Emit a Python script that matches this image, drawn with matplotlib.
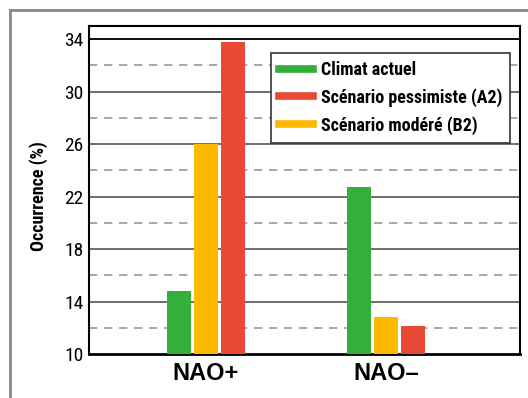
import matplotlib
matplotlib.use("Agg")
import matplotlib.pyplot as plt
from matplotlib.lines import Line2D
import numpy as np

categories = ["NAO+", "NAO\u2013"]
series_names = ["Climat actuel", "Sc\u00e9nario pessimiste (A2)", "Sc\u00e9nario mod\u00e9r\u00e9 (B2)"]
climat_actuel = [14.8, 22.7]
scenario_b2 = [26.0, 12.8]
scenario_a2 = [33.8, 12.1]
yticks = [10, 14, 18, 22, 26, 30, 34]

green = "#33b03a"
red = "#e84a35"
orange = "#fdb900"

narrow = ["Roboto Condensed", "Archivo Narrow", "DejaVu Sans"]

fig = plt.figure(figsize=(5.28, 3.98), dpi=100)
W, H = 528, 398
ax = fig.add_axes([89 / W, 1 - 354 / H, (520 - 89) / W, (354 - 26) / H])

x = np.arange(len(categories))
bw = 24 / 180
step = 27 / 180
ax.bar(x - step, climat_actuel, width=bw, color=green, zorder=3)
ax.bar(x, scenario_b2, width=bw, color=orange, zorder=3)
ax.bar(x + step, scenario_a2, width=bw, color=red, zorder=3)

ax.set_xlim(-0.65, 1.744)
ax.set_ylim(10, 35)

for v in range(14, 35, 4):
    ax.axhline(v, color="#555555", lw=1.2, zorder=1)
for v in range(12, 35, 4):
    ax.axhline(v, color="#999999", lw=1.2, ls=(0, (5, 4)), zorder=1)
ax.axhline(34, color="black", lw=1.2, zorder=1)

ax.set_yticks(yticks)
ax.set_yticklabels([str(t) for t in yticks], family=narrow, fontsize=14)
ax.tick_params(axis="y", length=0, pad=4)
ax.set_xticks(x)
ax.set_xticklabels(categories, family=["Liberation Sans", "DejaVu Sans"],
                   fontweight="bold", fontsize=17)
ax.tick_params(axis="x", length=0, pad=6)

for s in ax.spines.values():
    s.set_color("black")
    s.set_linewidth(1.5)
ax.spines["bottom"].set_linewidth(2)

ax.set_ylabel("Occurrence (%)", family=narrow, fontweight="bold", fontsize=13)
ax.yaxis.set_label_coords((48 - 89) / 431, 1 - (196 - 26) / 328)

handles = [Line2D([0], [0], color=green, lw=5.5),
           Line2D([0], [0], color=red, lw=5.5),
           Line2D([0], [0], color=orange, lw=5.5)]
leg = ax.legend(handles, series_names, loc="upper right",
                bbox_to_anchor=((510 - 89) / 431, 1 - (53 - 26) / 328),
                prop={"family": narrow, "weight": "bold", "size": 13},
                frameon=True, fancybox=False, edgecolor="#333333", framealpha=1,
                handlelength=1.9, handletextpad=0.4, labelspacing=0.5,
                borderpad=0.45, borderaxespad=0)
leg.get_frame().set_linewidth(1.2)
leg.set_zorder(5)

# outer frame
fig.add_artist(Line2D([10 / W, 1], [1 - 10 / H, 1 - 10 / H], color="#888888", lw=2,
                      transform=fig.transFigure))
fig.add_artist(Line2D([10 / W, 10 / W], [0, 1 - 10 / H], color="#888888", lw=2,
                      transform=fig.transFigure))

fig.savefig("out.png", dpi=100)
